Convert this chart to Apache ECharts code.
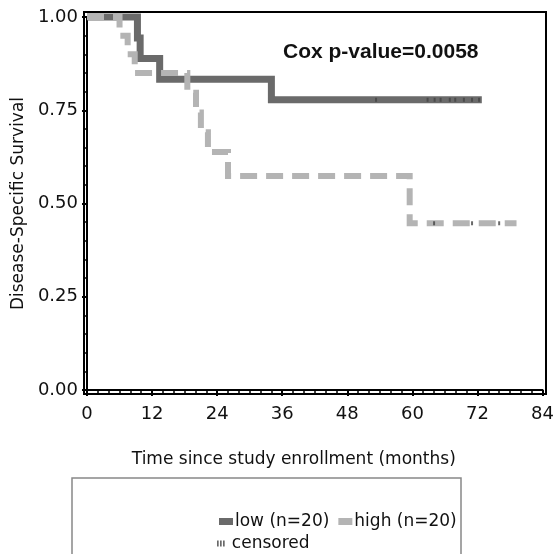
<!DOCTYPE html>
<html><head><meta charset="utf-8">
<script src="https://cdn.jsdelivr.net/npm/echarts@6/dist/echarts.min.js"></script>
<style>html,body{margin:0;padding:0;background:#fff}#c{width:557px;height:554px}</style>
</head><body><div id="c"></div>
<script>
// Kaplan-Meier step data (time in months, survival probability)
const lowName = 'low (n=20)';
const highName = 'high (n=20)';
const lowTimes = [0, 9.3, 9.8, 13.4, 34.0, 72.8];
const lowSurv  = [1.0, 0.944, 0.889, 0.833, 0.778, 0.778];
const highTimes = [0, 6.0, 7.5, 8.8, 18.5, 20.1, 21.0, 22.3, 26.0, 59.5, 79.2];
const highSurv  = [1.0, 0.95, 0.90, 0.85, 0.797, 0.744, 0.691, 0.638, 0.574, 0.447, 0.447];
const lowCensorTimes = [53.3, 62.8, 64.1, 65.2, 66.9, 67.9, 69.5, 71.0, 72.3];
const lowCensorSurv  = [0.778, 0.778, 0.778, 0.778, 0.778, 0.778, 0.778, 0.778, 0.778];
const highCensorTimes = [64.0, 71.0, 76.0];
const highCensorSurv  = [0.447, 0.447, 0.447];
const xMin = 0, xMax = 84, xStep = 12;
const yMin = 0, yMax = 1, yStep = 0.25;
const pValueText = 'Cox p-value=0.0058';

const zip = (a, b) => a.map((v, i) => [v, b[i]]);
const censorData = zip(lowCensorTimes, lowCensorSurv).concat(zip(highCensorTimes, highCensorSurv));

const chart = echarts.init(document.getElementById('c'), null, {renderer: 'canvas'});
const font = 'DejaVu Sans';
chart.setOption({
  animation: false,
  backgroundColor: '#fff',
  title: {
    text: pValueText, left: 283, top: 42, padding: 0,
    textStyle: {fontFamily: 'Liberation Sans', fontWeight: 'bold', fontSize: 21, color: '#111'}
  },
  grid: {left: 87, right: 11, top: 17, bottom: 164},
  xAxis: {
    type: 'value', min: xMin, max: xMax, interval: xStep, offset: 4,
    name: 'Time since study enrollment (months)', nameLocation: 'middle', nameGap: 57,
    nameTextStyle: {fontFamily: font, fontSize: 17, color: '#111', padding: [0, 42, 0, 0]},
    axisLine: {lineStyle: {color: '#000', width: 2}},
    axisTick: {length: 6, lineStyle: {color: '#000', width: 2}},
    minorTick: {show: true, splitNumber: 6, length: 3, lineStyle: {color: '#000', width: 1.5}},
    axisLabel: {fontFamily: font, fontSize: 18, color: '#111', margin: 11},
    splitLine: {show: false}
  },
  yAxis: {
    type: 'value', min: yMin, max: yMax, interval: yStep, offset: 3,
    name: 'Disease-Specific Survival', nameLocation: 'middle', nameGap: 54,
    nameTextStyle: {fontFamily: font, fontSize: 17, color: '#111'},
    axisLine: {show: true, lineStyle: {color: '#000', width: 2}},
    axisTick: {show: true, length: 5, lineStyle: {color: '#000', width: 2}},
    minorTick: {show: true, splitNumber: 5, length: 3, lineStyle: {color: '#000', width: 1.5}},
    axisLabel: {fontFamily: font, fontSize: 18, color: '#111', margin: 6,
      formatter: v => v.toFixed(2)},
    splitLine: {show: false}
  },
  legend: [
    {
      data: [lowName, highName], left: 219, top: 513, orient: 'horizontal', padding: 0,
      icon: 'rect', itemWidth: 14, itemHeight: 7, itemGap: 9,
      textStyle: {fontFamily: font, fontSize: 17, color: '#111', padding: [0, 0, 0, -3]}
    },
    {
      data: ['censored'], left: 217, top: 535, orient: 'horizontal', padding: 0,
      icon: 'path://M0,0h1.4v5h-1.4z M2.5,0h1.4v5h-1.4z M5,0h1.4v5h-1.4z', itemWidth: 12, itemHeight: 6,
      textStyle: {fontFamily: font, fontSize: 17, color: '#111'}
    }
  ],
  graphic: [
    {type: 'rect', shape: {x: 84, y: 12, width: 462, height: 382}, silent: true, z: 100,
      style: {fill: 'none', stroke: '#000', lineWidth: 2}},
    {type: 'rect', shape: {x: 72, y: 478, width: 389, height: 120}, silent: true,
      style: {fill: 'none', stroke: '#888', lineWidth: 1.5}}
  ],
  series: [
    {
      name: lowName, type: 'line', step: 'end', data: zip(lowTimes, lowSurv),
      showSymbol: false, symbol: 'none', clip: false, z: 2,
      itemStyle: {color: '#6a6a6a'},
      lineStyle: {color: '#6a6a6a', width: 7, cap: 'butt', join: 'miter'}
    },
    {
      name: highName, type: 'line', step: 'end', data: zip(highTimes, highSurv),
      showSymbol: false, symbol: 'none', clip: false, z: 3,
      itemStyle: {color: '#b4b4b4'},
      lineStyle: {color: '#b4b4b4', width: 6, type: [17, 9], cap: 'butt', join: 'miter'}
    },
    {
      name: 'censored', type: 'scatter', data: censorData, clip: false, z: 4,
      symbol: 'rect', symbolSize: [2, 4],
      itemStyle: {color: '#444'}
    }
  ]
});
</script></body></html>
